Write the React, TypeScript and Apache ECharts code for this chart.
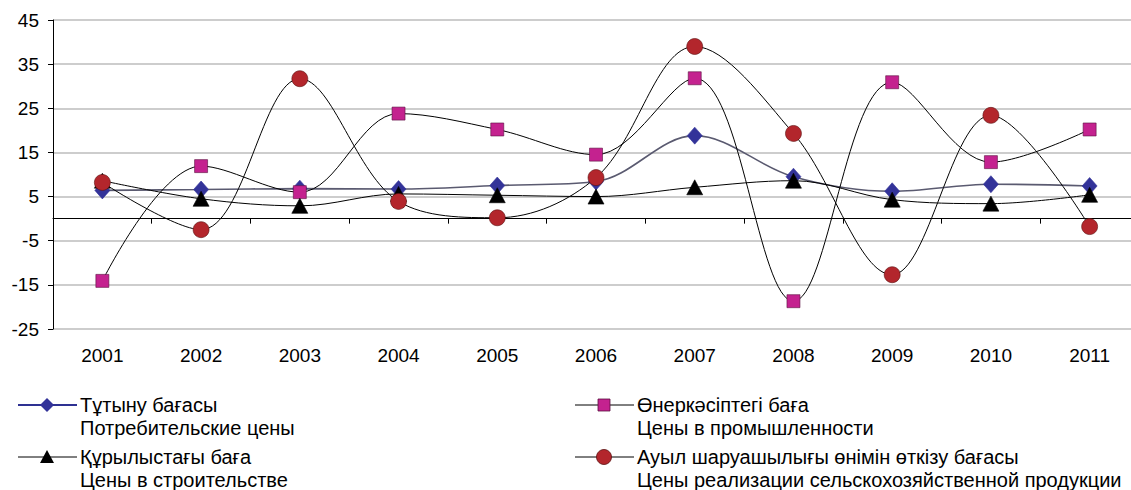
import React, { useEffect, useRef } from "react";
import * as echarts from "echarts";

const years = ["2001", "2002", "2003", "2004", "2005", "2006", "2007", "2008", "2009", "2010", "2011"];
const consumer = [6.4, 6.6, 6.8, 6.7, 7.5, 8.4, 18.8, 9.5, 6.2, 7.8, 7.4];
const industry = [-14.1, 11.9, 6.0, 23.8, 20.2, 14.5, 31.8, -18.7, 30.9, 12.8, 20.2];
const construction = [8.6, 4.5, 2.9, 5.6, 5.3, 5.0, 7.1, 8.6, 4.3, 3.4, 5.4];
const agriculture = [8.2, -2.5, 31.7, 3.9, 0.2, 9.3, 39.0, 19.3, -12.7, 23.4, -1.8];

const yMin = -25;
const yMax = 45;
const yStep = 10;

const namesKz = [
  "Тұтыну бағасы",
  "Өнеркәсіптегі баға",
  "Құрылыстағы баға",
  "Ауыл шаруашылығы өнімін өткізу бағасы",
];
const namesRu = [
  "Потребительские цены",
  "Цены в промышленности",
  "Цены в строительстве",
  "Цены реализации сельскохозяйственной продукции",
];

const FONT = '"Liberation Sans", Arial, sans-serif';

export default function App() {
  const ref = useRef<HTMLDivElement>(null);

  useEffect(() => {
    if (!ref.current) return;
    const chart = echarts.init(ref.current, null, { renderer: "svg" });

    const seriesDefs = [
      { data: consumer, symbol: "diamond", size: [15, 17], fill: "#333399", border: "#333399", line: "#5a5a70", lw: 1.6 },
      { data: industry, symbol: "rect", size: [13, 13], fill: "#C4228F", border: "#5a1040", line: "#000000", lw: 1 },
      { data: construction, symbol: "triangle", size: [16, 15], fill: "#000000", border: "#000000", line: "#000000", lw: 1 },
      { data: agriculture, symbol: "circle", size: [16, 16], fill: "#B3262C", border: "#5a1010", line: "#000000", lw: 1 },
    ];

    const series = seriesDefs.map((d, i) => ({
      name: namesKz[i],
      type: "line",
      data: d.data,
      xAxisIndex: 0,
      yAxisIndex: 0,
      smooth: 0.35,
      smoothConstraint: false,
      symbol: d.symbol,
      symbolSize: d.size,
      showSymbol: true,
      lineStyle: { color: d.line, width: d.lw },
      itemStyle: { color: d.fill, borderColor: d.border, borderWidth: 0.6 },
      z: 3 + i,
    }));

    // legend drawn with graphic elements
    const legendCols = [18, 575];
    const legendRows = [405, 457];
    const graphics: any[] = [];
    seriesDefs.forEach((d, i) => {
      const x0 = legendCols[i % 2];
      const yc = legendRows[Math.floor(i / 2)];
      const mx = x0 + 29;
      const isConsumer = i === 0;
      graphics.push({
        type: "line",
        shape: { x1: x0, y1: yc, x2: x0 + 59, y2: yc },
        style: { stroke: isConsumer ? "#2E3192" : "#000", lineWidth: isConsumer ? 2 : 1 },
      });
      if (d.symbol === "diamond") {
        graphics.push({
          type: "polygon",
          shape: { points: [[mx, yc - 7], [mx + 7, yc], [mx, yc + 7], [mx - 7, yc]] },
          style: { fill: d.fill },
        });
      } else if (d.symbol === "rect") {
        graphics.push({
          type: "rect",
          shape: { x: mx - 6, y: yc - 6, width: 12, height: 12 },
          style: { fill: d.fill, stroke: d.border, lineWidth: 0.8 },
        });
      } else if (d.symbol === "triangle") {
        graphics.push({
          type: "polygon",
          shape: { points: [[mx, yc - 7], [mx + 7, yc + 6], [mx - 7, yc + 6]] },
          style: { fill: d.fill },
        });
      } else {
        graphics.push({
          type: "circle",
          shape: { cx: mx, cy: yc, r: 7.5 },
          style: { fill: d.fill, stroke: d.border, lineWidth: 0.8 },
        });
      }
      graphics.push({
        type: "text",
        x: x0 + 62,
        y: yc - 12,
        style: {
          text: namesKz[i] + "\n" + namesRu[i],
          font: `20px ${FONT}`,
          fill: "#000",
          lineHeight: 23,
          verticalAlign: "top",
          align: "left",
        },
      });
    });

    chart.setOption({
      animation: false,
      backgroundColor: "#ffffff",
      grid: { left: 53, right: 0, top: 20, bottom: 161, containLabel: false },
      xAxis: [
        {
          type: "category",
          data: years,
          position: "bottom",
          boundaryGap: true,
          axisLine: { show: false, onZero: false },
          axisTick: { show: false },
          splitLine: { show: false },
          axisLabel: { fontSize: 19, color: "#000", fontFamily: FONT, margin: 17 },
        },
        {
          type: "category",
          data: years,
          position: "top",
          boundaryGap: true,
          axisLine: { show: true, onZero: true, lineStyle: { color: "#000", width: 1 } },
          axisTick: { show: true, inside: true, length: 5, interval: 0, lineStyle: { color: "#000" } },
          axisLabel: { show: false },
          splitLine: { show: false },
        },
      ],
      yAxis: {
        type: "value",
        min: yMin,
        max: yMax,
        interval: yStep,
        axisLine: { show: true, onZero: false, lineStyle: { color: "#000", width: 1 } },
        axisTick: { show: true, length: 5, lineStyle: { color: "#000" } },
        splitLine: { show: true, lineStyle: { color: "#bdbdbd", width: 1.5 } },
        axisLabel: { fontSize: 19, color: "#000", fontFamily: FONT, margin: 14 },
      },
      series,
      graphic: graphics,
    });

    return () => chart.dispose();
  }, []);

  return (
    <div style={{ position: "absolute", left: 0, top: 0, width: 1131, height: 490, overflow: "hidden", background: "#fff" }}>
      <div ref={ref} style={{ width: 1139, height: 490 }} />
    </div>
  );
}
